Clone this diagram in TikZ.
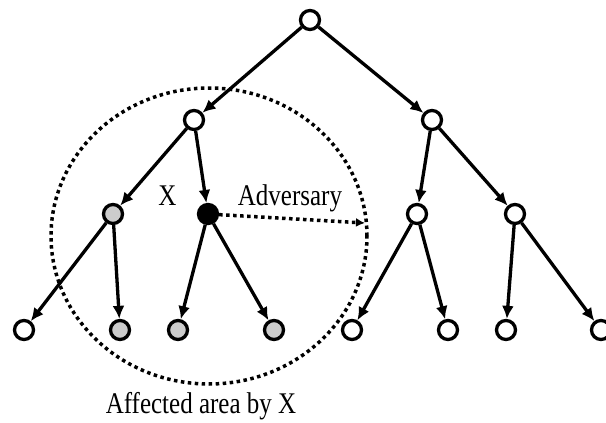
\documentclass[tikz,border=0pt]{standalone}
\usepackage{fontspec}
\setmainfont{Liberation Serif}
\usetikzlibrary{arrows.meta}
\newcommand{\tallText}[1]{\scalebox{1}[1.2]{#1}}
\begin{document}
\begin{tikzpicture}[x=1pt,y=-1pt,
  vtx/.style={circle,draw=black,line width=3.3pt,fill=white,minimum size=19pt,inner sep=0pt},
  hit/.style={vtx,fill=black!20},
  adv/.style={vtx,fill=black},
  edge/.style={line width=3.3pt,-{Latex[length=13pt,width=12pt]}},
  dots/.style={line width=3.5pt,dash pattern=on 3.5pt off 3.5pt},
  lbl/.style={font=\fontsize{25}{28}\selectfont,inner sep=0pt,anchor=base}]
\useasboundingbox (0,0) rectangle (606,423);
% affected region around X
\draw[dots] (209,236) ellipse [x radius=158pt,y radius=148pt];
% tree vertices
\node[vtx] (r) at (310,20) {};
\node[vtx] (a) at (194,120) {};
\node[vtx] (b) at (432,120) {};
\node[hit] (a1) at (113,214) {};
\node[adv] (a2) at (208,214) {};
\node[vtx] (b1) at (417,214) {};
\node[vtx] (b2) at (515,214) {};
\node[vtx] (l1) at (24,330) {};
\node[hit] (l2) at (120,330) {};
\node[hit] (l3) at (178,330) {};
\node[hit] (l4) at (274,330) {};
\node[vtx] (l5) at (352,330) {};
\node[vtx] (l6) at (448,330) {};
\node[vtx] (l7) at (506,330) {};
\node[vtx] (l8) at (601,330) {};
% tree edges
\foreach \p/\c in {r/a,r/b,a/a1,a/a2,b/b1,b/b2,a1/l1,a1/l2,a2/l3,a2/l4,b1/l5,b1/l6,b2/l7,b2/l8}
  \draw[edge] (\p) -- (\c);
% adversary reach
\coordinate (rim) at (365,223);
\draw[dots,-{Latex[length=9pt,width=9pt]}] (a2) -- (rim);
% labels
\node[lbl] (xl) at (167.5,205) {\tallText{X}};
\node[lbl] (al) at (290,205) {\tallText{Adversary}};
\node[lbl] (fl) at (201,413) {\tallText{Affected area by X}};
\end{tikzpicture}
\end{document}
